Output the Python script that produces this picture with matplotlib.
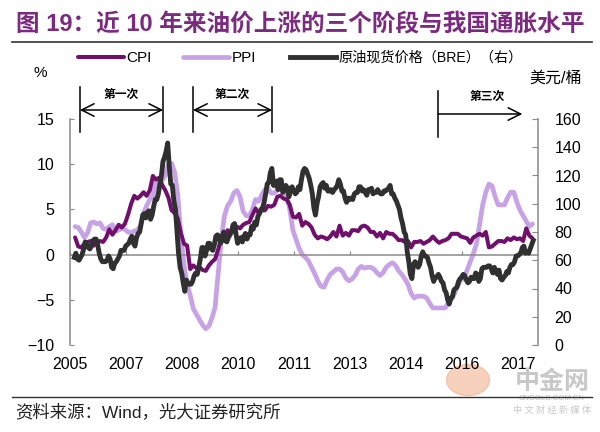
import matplotlib
matplotlib.use("Agg")
import matplotlib.pyplot as plt
import matplotlib.transforms as mtransforms
from matplotlib.patches import Circle
import numpy as np

plt.rcParams['font.family'] = ['Liberation Sans', 'Noto Sans CJK SC', 'DejaVu Sans']

# ---------------- data ----------------
START_YEAR = 2006
CPI = [1.9, 0.9, 0.8, 1.2, 1.4, 1.5, 1.0, 1.3, 1.5, 1.4, 1.9, 2.8,
       2.2, 2.7, 3.3, 3.0, 3.4, 4.4, 5.6, 6.5, 6.2, 6.5, 6.9, 6.5,
       7.1, 8.7, 8.3, 8.5, 7.7, 7.1, 6.3, 4.9, 4.6, 4.0, 2.4, 1.2,
       1.0, -1.6, -1.2, -1.5, -1.4, -1.7, -1.8, -1.2, -0.8, -0.5, 0.6, 1.9,
       1.5, 2.7, 2.4, 2.8, 3.1, 2.9, 3.3, 3.5, 3.6, 4.4, 5.1, 4.6,
       4.9, 4.9, 5.4, 5.3, 5.5, 6.4, 6.5, 6.2, 6.1, 5.5, 4.2, 4.1,
       4.5, 3.2, 3.6, 3.4, 3.0, 2.2, 1.8, 2.0, 1.9, 1.7, 2.0, 2.5,
       2.0, 3.2, 2.1, 2.4, 2.1, 2.7, 2.7, 2.6, 3.1, 3.2, 3.0, 2.5,
       2.5, 2.0, 2.4, 1.8, 2.5, 2.3, 2.3, 2.0, 1.6, 1.6, 1.4, 1.5,
       0.8, 1.4, 1.4, 1.5, 1.2, 1.4, 1.6, 2.0, 1.6, 1.3, 1.5, 1.6,
       1.8, 2.3, 2.3, 2.3, 2.0, 1.9, 1.8, 1.3, 1.9, 2.1, 2.3, 2.1,
       2.5, 0.8, 0.9, 1.2, 1.5, 1.5, 1.4, 1.8, 1.6, 1.9, 1.7, 1.8,
       1.5, 2.9, 2.1, 1.8]

PPI = [3.1, 3.0, 2.5, 1.9, 2.4, 3.5, 3.6, 3.4, 3.5, 2.9, 2.8, 3.1,
       3.3, 2.6, 2.7, 2.9, 2.8, 2.5, 2.4, 2.6, 2.7, 3.2, 4.6, 5.4,
       6.1, 6.6, 8.0, 8.1, 8.2, 8.8, 10.0, 10.1, 9.1, 6.6, 2.0, -1.1,
       -3.3, -4.5, -6.0, -6.6, -7.2, -7.8, -8.2, -7.9, -7.0, -5.8, -2.1, 1.7,
       4.3, 5.4, 5.9, 6.8, 7.1, 6.4, 4.8, 4.3, 4.3, 5.0, 6.1, 5.9,
       6.6, 7.2, 7.3, 6.8, 6.8, 7.1, 7.5, 7.3, 6.5, 5.0, 2.7, 1.7,
       0.7, 0.0, -0.3, -0.7, -1.4, -2.1, -2.9, -3.5, -3.6, -2.8, -2.2, -1.9,
       -1.6, -1.6, -1.9, -2.6, -2.9, -2.7, -2.3, -1.6, -1.3, -1.5, -1.4, -1.4,
       -1.6, -2.0, -2.3, -2.0, -1.4, -1.1, -0.9, -1.2, -1.8, -2.2, -2.7, -3.3,
       -4.3, -4.8, -4.6, -4.6, -4.6, -4.8, -5.4, -5.9, -5.9, -5.9, -5.9, -5.9,
       -5.3, -4.9, -4.3, -3.4, -2.8, -2.6, -1.7, -0.8, 0.1, 1.2, 3.3, 5.5,
       6.9, 7.8, 7.6, 6.4, 5.5, 5.5, 5.5, 6.3, 6.9, 6.9, 5.8, 4.9,
       4.3, 3.7, 3.1, 3.4]

# Brent spot, two readings per month (first half, second half), USD/bbl
BRENT = [62, 65, 61, 60, 62, 64, 68, 73, 71, 69, 68, 70, 74, 75, 75, 71, 65, 61, 59, 59, 59, 60, 63, 61,
         55, 54, 58, 59, 61, 63, 67, 67, 67, 70, 71, 72, 75, 77, 72, 70, 76, 79, 80, 86, 92, 93, 90, 94,
         95, 89, 92, 98, 103, 103, 107, 114, 120, 130, 133, 137, 143, 127, 114, 113, 102, 96, 80, 65, 55, 51, 44, 38,
         46, 44, 43, 43, 45, 49, 51, 50, 55, 61, 69, 69, 63, 67, 72, 72, 68, 67, 71, 77, 78, 77, 72, 76,
         80, 74, 73, 76, 78, 80, 85, 86, 78, 72, 75, 76, 73, 77, 79, 75, 78, 78, 84, 82, 87, 85, 91, 93,
         96, 97, 101, 107, 114, 115, 122, 125, 113, 113, 116, 110, 117, 117, 108, 110, 113, 111, 105, 111, 112, 109, 107, 108,
         112, 110, 117, 123, 125, 124, 121, 118, 113, 107, 97, 92, 100, 105, 112, 114, 115, 111, 113, 109, 109, 110, 108, 110,
         111, 113, 117, 114, 109, 109, 104, 101, 104, 103, 104, 103, 107, 108, 108, 112, 112, 109, 110, 108, 106, 110, 110, 111,
         107, 108, 108, 110, 108, 107, 107, 109, 109, 110, 111, 113, 107, 107, 104, 102, 99, 96, 90, 86, 80, 78, 66, 59,
         50, 47, 57, 59, 57, 55, 57, 63, 66, 63, 63, 62, 58, 55, 49, 45, 48, 48, 50, 48, 45, 44, 39, 37,
         32, 29, 33, 34, 39, 40, 41, 45, 47, 48, 50, 49, 46, 44, 45, 48, 47, 47, 51, 50, 45, 47, 54, 55,
         55, 55, 56, 56, 54, 51, 55, 52, 50, 53, 47, 46, 48, 49, 52, 51, 55, 57, 57, 59, 63, 63, 64, 65,
         69, 70, 65, 66, 65, 68, 71, 74]

X_MIN, X_MAX = 2005.905, 2018.44
X_TICK_STEP = 1.5
X_TICK_LABELS = ['2005', '2007', '2008', '2010', '2011', '2013', '2014', '2016', '2017']
LEFT_TICKS = [-10, -5, 0, 5, 10, 15]
RIGHT_TICKS = [0, 20, 40, 60, 80, 100, 120, 140, 160]
PERIOD_LABELS = ['第一次', '第二次', '第三次']
PERIODS = [(2006.17, 2008.40), (2009.20, 2011.32), (2015.76, 2018.02)]
SERIES_NAMES = ['CPI', 'PPI', '原油现货价格（BRE）（右）']

TITLE = '图 19：近 10 年来油价上涨的三个阶段与我国通胀水平'
SOURCE = '资料来源：Wind，光大证券研究所'

# ---------------- figure ----------------
W, H = 600, 432
fig = plt.figure(figsize=(6, 4.32), dpi=100)

def fx(p):
    return p / W

def fy(p):
    return 1 - p / H

ax = fig.add_axes([fx(70), fy(345), fx(538) - fx(70), fy(119) - fy(345)])
ax2 = ax.twinx()

months = np.arange(len(CPI))
x_m = START_YEAR + months / 12.0 + 0.5 / 12
half = np.arange(len(BRENT))
x_h = START_YEAR + (half // 2) / 12.0 + (0.25 + 0.5 * (half % 2)) / 12

C_CPI = '#70106C'
C_PPI = '#C7A3E6'
C_OIL = '#303030'
C_AX = '#8a8a8a'

l_ppi, = ax.plot(x_m, PPI, color=C_PPI, lw=3.4, solid_capstyle='round', zorder=2)
l_cpi, = ax.plot(x_m, CPI, color=C_CPI, lw=2.9, solid_capstyle='round', zorder=3)
l_oil, = ax2.plot(x_h, BRENT, color=C_OIL, lw=3.5, solid_joinstyle='round', zorder=4)

ax.set_xlim(X_MIN, X_MAX)
ax.set_ylim(-10, 15)
ax2.set_ylim(0, 160)
ax.set_yticks(LEFT_TICKS)
ax2.set_yticks(RIGHT_TICKS)
xt = X_MIN + X_TICK_STEP * np.arange(len(X_TICK_LABELS))
ax.set_xticks(xt)
ax.set_xticklabels(X_TICK_LABELS)

for a in (ax, ax2):
    a.spines['top'].set_visible(False)
    a.patch.set_visible(False)
ax.spines['right'].set_visible(False)
ax2.spines['left'].set_visible(False)
ax2.spines['bottom'].set_visible(False)
ax.spines['bottom'].set_position(('data', 0))
ax.spines['bottom'].set_color(C_AX)
ax.spines['bottom'].set_linewidth(1.1)
ax.spines['left'].set_color(C_AX)
ax.spines['left'].set_linewidth(1.1)
ax2.spines['right'].set_color(C_AX)
ax2.spines['right'].set_linewidth(1.1)

ax.tick_params(axis='x', direction='in', length=3, color=C_AX, labelsize=11.5, pad=74)
ax.tick_params(axis='y', direction='in', length=3, color=C_AX, labelsize=11.5, pad=11)
ax2.tick_params(axis='y', direction='in', length=4, color=C_AX, labelsize=11.5, pad=12)

# ---------------- period brackets ----------------
btr = mtransforms.blended_transform_factory(ax.transData, fig.transFigure)
lk = dict(color='black', lw=1.1, clip_on=False)
for i, (a0, a1) in enumerate(PERIODS):
    if i < 2:
        for xv in (a0, a1):
            fig.add_artist(plt.Line2D([xv, xv], [fy(87), fy(132)], transform=btr, **lk))
        ax.annotate('', xy=(a1, fy(110)), xytext=(a0, fy(110)),
                    xycoords=btr, textcoords=btr, annotation_clip=False,
                    arrowprops=dict(arrowstyle='<->,head_length=0.9,head_width=0.45',
                                    color='black', lw=1.1, shrinkA=0, shrinkB=0,
                                    mutation_scale=10))
        ax.text((a0 + a1) / 2, fy(94), PERIOD_LABELS[i], transform=btr, ha='center', va='center',
                fontsize=8.5, fontweight='bold', family=['Noto Sans CJK SC'])
    else:
        fig.add_artist(plt.Line2D([a0, a0], [fy(91), fy(137)], transform=btr, **lk))
        ax.annotate('', xy=(a1, fy(114)), xytext=(a0, fy(114)),
                    xycoords=btr, textcoords=btr, annotation_clip=False,
                    arrowprops=dict(arrowstyle='->,head_length=0.9,head_width=0.45',
                                    color='black', lw=1.1, shrinkA=0, shrinkB=0,
                                    mutation_scale=10))
        ax.text(a0 + (a1 - a0) * 0.58, fy(96), PERIOD_LABELS[i], transform=btr, ha='center', va='center',
                fontsize=8.5, fontweight='bold', family=['Noto Sans CJK SC'])

# ---------------- texts ----------------
fig.text(fx(300), fy(25), TITLE, ha='center', va='center', fontsize=17, fontweight='bold',
         color='#7B2A80')
fig.add_artist(plt.Line2D([fx(12), fx(592)], [fy(42), fy(42)], color='#333333', lw=1.2))
fig.add_artist(plt.Line2D([fx(12), fx(592)], [fy(397), fy(397)], color='#333333', lw=1.0))
fig.text(fx(15), fy(412), SOURCE, ha='left', va='center', fontsize=12.5, color='#222222')

fig.text(fx(40), fy(73), '%', ha='center', va='center', fontsize=11)
fig.text(fx(556), fy(78), '美元/桶', ha='center', va='center', fontsize=11.5)

# legend: one entry per block, placed like the reference
handle_px = 46
for h, name, x_left, fs in zip([l_cpi, l_ppi, l_oil], SERIES_NAMES, [78, 183, 290], [11, 11, 10.2]):
    fig.legend([h], [name], loc='center left', bbox_to_anchor=(fx(x_left), fy(58)),
               frameon=False, fontsize=fs, handlelength=handle_px / (fs * 100 / 72),
               handletextpad=0.15, borderpad=0, borderaxespad=0)

# ---------------- watermark ----------------
fig.add_artist(Circle((fx(468), fy(380)), 0.036, transform=fig.transFigure,
                      color='#F0A47A', alpha=0.5, zorder=0))
fig.text(fx(552), fy(382), '中金网', ha='center', va='center', fontsize=18,
         color='#C8C8C8', fontweight='bold', zorder=0)
fig.text(fx(552), fy(399), 'CNGOLD.COM.CN', ha='center', va='center', fontsize=5.5,
         color='#C0C0C0', zorder=0)
fig.text(fx(552), fy(410), '中 文 财 经 新 媒 体', ha='center', va='center', fontsize=6.5,
         color='#C8C8C8', zorder=0)

fig.savefig('out.png', dpi=100)
